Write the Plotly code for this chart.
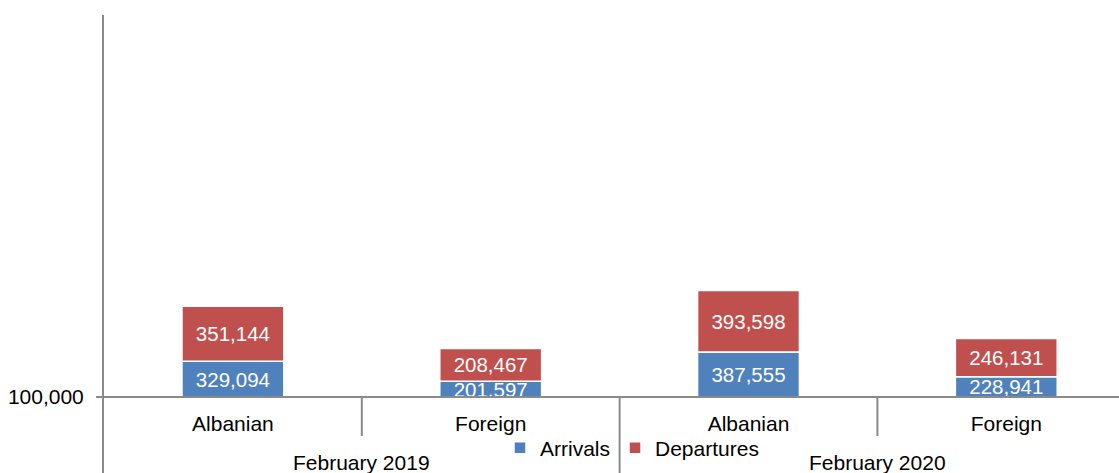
import plotly.graph_objects as go

groups = ["February 2019", "February 2019", "February 2020", "February 2020"]
subcats = ["Albanian", "Foreign", "Albanian", "Foreign"]
arrivals = [329094, 201597, 387555, 228941]
departures = [351144, 208467, 393598, 246131]
axis_cross = 100000

BLUE = "#4F81BD"
RED = "#C0504D"
AX = "#8a8a8a"
FONT = "Liberation Sans, Arial, sans-serif"

W, H = 1119, 473
ML, MT = 104, 15
plot_h = H - MT
xpos = list(range(len(subcats)))

k = 6400.0  # value per pixel
y_lo = axis_cross - 76 * k
y_hi = axis_cross + 382 * k
cross_paper = (axis_cross - y_lo) / (y_hi - y_lo)

fig = go.Figure()
fig.add_trace(go.Bar(
    x=xpos, y=[a - axis_cross for a in arrivals], base=[axis_cross] * len(arrivals),
    name="Arrivals", marker=dict(color=BLUE, line=dict(color="white", width=1.5)),
    text=[f"{a:,}" for a in arrivals], textposition="inside", insidetextanchor="middle",
    constraintext="none", textfont=dict(color="white", size=20.5, family=FONT),
    width=0.395, hoverinfo="skip",
))
fig.add_trace(go.Bar(
    x=xpos, y=departures, base=arrivals,
    name="Departures", marker=dict(color=RED, line=dict(color="white", width=1.5)),
    text=[f"{d:,}" for d in departures], textposition="inside", insidetextanchor="middle",
    constraintext="none", textfont=dict(color="white", size=20.5, family=FONT),
    width=0.395, hoverinfo="skip",
))

# dividers between categories
div_short = (H - 436) / plot_h
for i in range(len(subcats) - 1):
    is_group = groups[i] != groups[i + 1]
    fig.add_shape(type="line", xref="x", yref="paper", x0=i + 0.5, x1=i + 0.5,
                  y0=cross_paper, y1=0 if is_group else div_short,
                  line=dict(color=AX, width=2), layer="above")

# group labels
ug = []
for g in groups:
    if g not in ug:
        ug.append(g)
for g in ug:
    idx = [i for i, gg in enumerate(groups) if gg == g]
    fig.add_annotation(x=sum(idx) / len(idx), xref="x", y=(H - 462) / plot_h, yref="paper",
                       text=g, showarrow=False, yanchor="middle",
                       font=dict(size=21, family=FONT, color="black"))

fig.update_layout(
    width=W, height=H, barmode="overlay",
    margin=dict(l=ML, r=0, t=MT, b=0, pad=0),
    paper_bgcolor="white", plot_bgcolor="white",
    font=dict(family=FONT, size=21, color="black"),
    showlegend=True,
    legend=dict(orientation="h", x=(632 - ML) / (W - ML), xanchor="center",
                y=(H - 448) / plot_h, yanchor="middle", bgcolor="rgba(0,0,0,0)",
                font=dict(size=21, family=FONT, color="black"), traceorder="normal"),
    xaxis=dict(range=[-0.5, -0.5 + (W - ML) / 257.8], tickvals=xpos, ticktext=subcats,
               showgrid=False, zeroline=False, showline=True, linecolor=AX, linewidth=2,
               anchor="free", position=cross_paper, ticks="", ticklabelstandoff=8,
               tickfont=dict(size=21, family=FONT, color="black")),
    yaxis=dict(range=[y_lo, y_hi], tickvals=[axis_cross], ticktext=[f"{axis_cross:,}"],
               showgrid=False, zeroline=False, showline=True, linecolor=AX, linewidth=2,
               ticks="outside", ticklen=6, tickcolor=AX, tickwidth=2, ticklabelstandoff=8,
               tickfont=dict(size=21, family=FONT, color="black")),
)

fig.write_html("out.html", config={"displayModeBar": False},
               post_script="document.body.style.margin='0';document.body.style.overflow='hidden';")
